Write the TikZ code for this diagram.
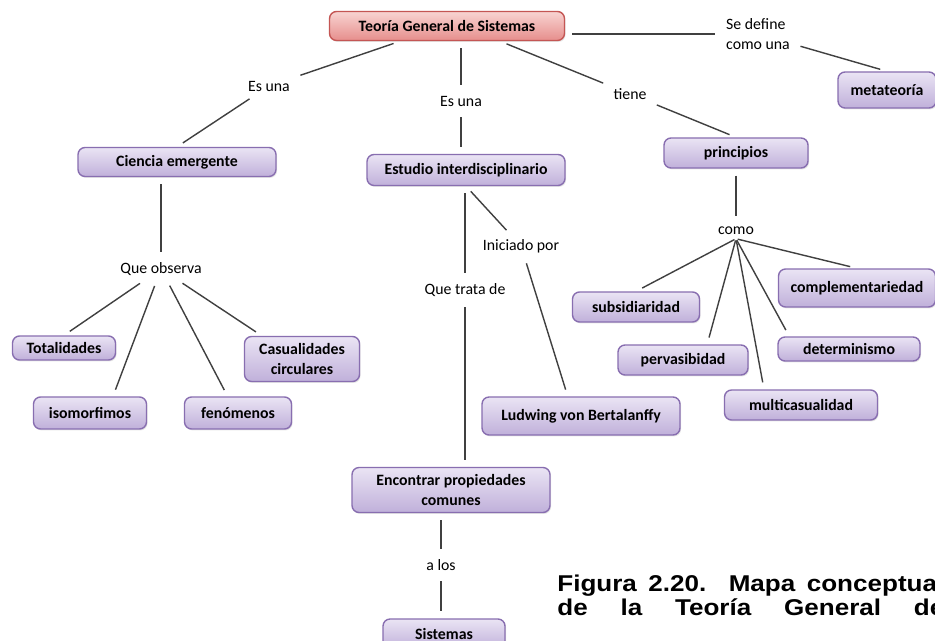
\documentclass[tikz,border=0pt]{standalone}
\usepackage{fontspec}
\setmainfont{Carlito}
\newfontfamily\capfont{Liberation Sans}
\usepackage{tikz}
\usetikzlibrary{shadows}
\usepackage{xcolor}

\definecolor{boxline}{RGB}{136,110,176}
\definecolor{boxtop}{RGB}{234,228,244}
\definecolor{boxbot}{RGB}{192,176,218}
\definecolor{redline}{RGB}{196,86,84}
\definecolor{redtop}{RGB}{248,212,210}
\definecolor{redbot}{RGB}{230,142,140}

\begin{document}
\begin{tikzpicture}[
    x=0.02cm, y=-0.02cm,
    concept/.style={draw=boxline, line width=0.8pt, rounded corners=4pt, top color=boxtop,
                    bottom color=boxbot, align=center, inner sep=1pt,
                    font=\bfseries\fontsize{9}{11}\selectfont,
                    drop shadow={opacity=0.2, shadow xshift=0.6pt, shadow yshift=-0.8pt}},
    rootbox/.style={concept, draw=redline, top color=redtop, bottom color=redbot},
    link/.style={inner sep=2pt, align=left, font=\fontsize{9}{11.4}\selectfont},
    conn/.style={draw=black!75, line width=0.8pt, shorten <=4pt, shorten >=4pt},
]
\path[use as bounding box, fill=white] (0,0) rectangle (935,641);
\clip (0,0) rectangle (935,641);

% Root
\node[rootbox, minimum width=4.7cm, minimum height=0.58cm] (teoria) at (447,26) {Teoría General de Sistemas};
\node[link] (sedefine) at (758,34) {Se define\\como una};
\node[concept, minimum width=1.96cm, minimum height=0.72cm] (meta) at (887,90) {metateoría};
\draw[conn] (teoria.east |- sedefine.west) -- (sedefine.west);
\draw[conn] (sedefine) -- (meta.north);

% Left -- Ciencia emergente
\node[link] (esuna1) at (269,86) {Es una};
\node[concept, minimum width=3.96cm, minimum height=0.58cm] (ciencia) at (177,162) {Ciencia emergente};
\node[link] (queobs) at (161,269) {Que observa};
\node[concept, minimum width=2.06cm, minimum height=0.48cm] (totalid) at (64,348) {Totalidades};
\node[concept, minimum width=2.26cm, minimum height=0.64cm] (isomorf) at (90,413) {isomorfimos};
\node[concept, minimum width=2.14cm, minimum height=0.64cm] (fenomen) at (238,413) {fenómenos};
\node[concept, minimum width=2.3cm, minimum height=0.9cm] (casual) at (302,359) {Casualidades\\circulares};
\draw[conn] (teoria.198) -- (esuna1);
\draw[conn] (esuna1) -- (ciencia.north);
\draw[conn] (ciencia.south -| queobs) -- (queobs);
\draw[conn] (queobs) -- (totalid.north);
\draw[conn] (queobs) -- (isomorf.36);
\draw[conn] (queobs) -- (fenomen.122);
\draw[conn] (queobs) -- (casual.150);

% Middle -- Estudio interdisciplinario
\node[link] (esuna2) at (461,101) {Es una};
\node[concept, minimum width=3.96cm, minimum height=0.62cm] (estudio) at (466,170) {Estudio interdisciplinario};
\node[link] (iniciado) at (521,246) {Iniciado por};
\node[concept, minimum width=3.96cm, minimum height=0.76cm] (ludwig) at (581,416) {Ludwing von Bertalanffy};
\node[link] (quetrata) at (465,290) {Que trata de};
\node[concept, minimum width=3.96cm, minimum height=0.9cm] (encontrar) at (451,490) {Encontrar propiedades\\comunes};
\node[link] (alos) at (441,565) {a los};
\node[concept, minimum width=2.44cm, minimum height=0.6cm] (sistemas) at (444,634) {Sistemas};
\draw[conn] (teoria.south -| esuna2) -- (esuna2);
\draw[conn] (esuna2) -- (esuna2 |- estudio.north);
\draw[conn] (estudio.south) -- (iniciado);
\draw[conn] (iniciado) -- (ludwig.124);
\draw[conn] (estudio.south -| quetrata) -- (quetrata);
\draw[conn] (quetrata) -- (quetrata |- encontrar.north);
\draw[conn] (encontrar.south -| alos) -- (alos);
\draw[conn] (alos) -- (alos |- sistemas.north);

% Right -- principios
\node[link] (tiene) at (630,94) {tiene};
\node[concept, minimum width=2.88cm, minimum height=0.6cm] (principios) at (736,153) {principios};
\node[link] (como) at (736,231) {como};
\node[concept, minimum width=2.54cm, minimum height=0.6cm] (subsid) at (636,307) {subsidiaridad};
\node[concept, minimum width=2.6cm, minimum height=0.6cm] (pervas) at (683,360) {pervasibidad};
\node[concept, minimum width=3.14cm, minimum height=0.76cm] (complem) at (857,288) {complementariedad};
\node[concept, minimum width=2.84cm, minimum height=0.48cm] (determ) at (849,349) {determinismo};
\node[concept, minimum width=3.06cm, minimum height=0.6cm] (multicas) at (801,405) {multicasualidad};
\draw[conn] (teoria.344) -- (tiene);
\draw[conn] (tiene) -- (principios.north);
\draw[conn] (principios.south -| como) -- (como);
\draw[conn, shorten <=1pt] (como.south) -- (subsid.north);
\draw[conn, shorten <=1pt] (como.south) -- (pervas.33);
\draw[conn, shorten <=1pt] (como.south) -- (multicas.157);
\draw[conn, shorten <=1pt] (como.south) -- (determ.168);
\draw[conn, shorten <=1pt] (como.south) -- (complem.north);

% Caption
\node[anchor=base west, inner sep=0pt, align=left,
      font=\capfont\bfseries\fontsize{13}{10.3}\selectfont] (caption) at (557,615)
     {\scalebox{1.14}[1]{\makebox[6.79cm][s]{Figura 2.20. Mapa conceptual}}\\
      \scalebox{1.14}[1]{\makebox[6.79cm][s]{de la Teoría General de}}};
\end{tikzpicture}
\end{document}
